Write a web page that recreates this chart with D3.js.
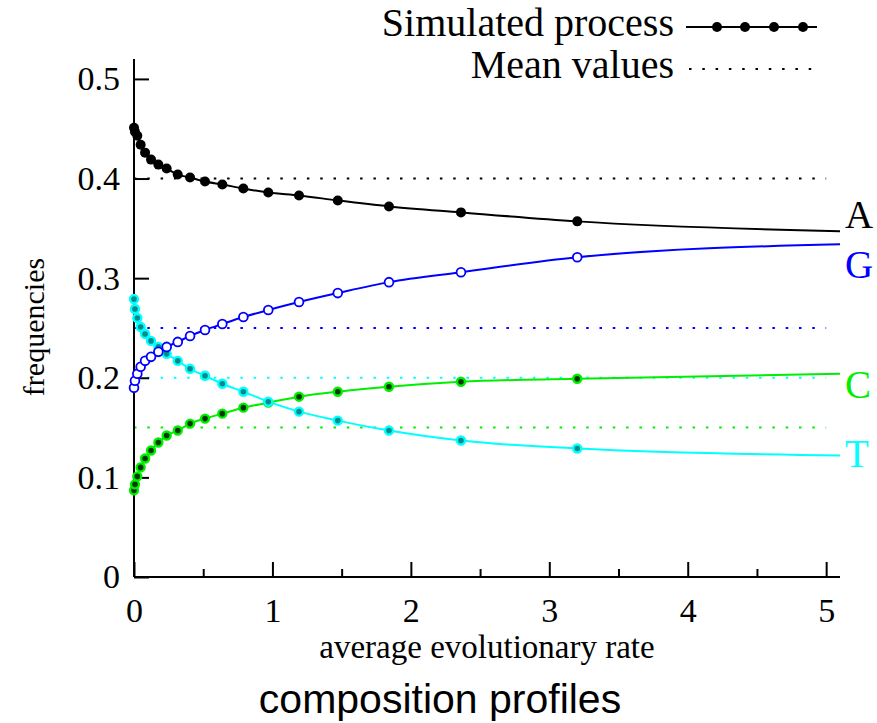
<!DOCTYPE html>
<html>
<head>
<meta charset="utf-8">
<script src="https://cdn.jsdelivr.net/npm/d3@7"></script>
<style>
  body { margin: 0; background: #fff; }
  text { font-family: "Liberation Serif", "Times New Roman", serif; }
  .title { font-family: "Liberation Sans", Arial, sans-serif; }
</style>
</head>
<body>
<div id="viz"></div>
<script>
// rate values where the simulated process was sampled
var rates = [0, 0.007, 0.024, 0.048, 0.08, 0.123, 0.176, 0.236, 0.316, 0.405,
             0.513, 0.638, 0.79, 0.97, 1.192, 1.472, 1.842, 2.362, 3.202];
var freqA = [0.451, 0.447, 0.443, 0.434, 0.426, 0.419, 0.414, 0.410, 0.404, 0.401,
             0.397, 0.394, 0.390, 0.386, 0.383, 0.378, 0.372, 0.366, 0.357];
var freqG = [0.190, 0.197, 0.204, 0.211, 0.217, 0.221, 0.226, 0.231, 0.236, 0.242,
             0.248, 0.254, 0.261, 0.268, 0.276, 0.285, 0.296, 0.306, 0.321];
var freqC = [0.087, 0.093, 0.101, 0.110, 0.119, 0.127, 0.135, 0.142, 0.147, 0.154,
             0.159, 0.164, 0.170, 0.175, 0.181, 0.186, 0.191, 0.196, 0.199];
var freqT = [0.279, 0.269, 0.260, 0.251, 0.244, 0.237, 0.231, 0.224, 0.217, 0.209,
             0.202, 0.194, 0.186, 0.176, 0.166, 0.157, 0.147, 0.137, 0.129];
// where the curves leave the plot on the right
var endRate = 5.1;
var endFreq = { A: 0.347, G: 0.334, C: 0.204, T: 0.122 };
var meanFreq = { A: 0.40, G: 0.25, C: 0.15, T: 0.20 };
var xTicks = [0, 1, 2, 3, 4, 5];
var xMinorTicks = [0.5, 1.5, 2.5, 3.5, 4.5];
var yTicks = [0, 0.1, 0.2, 0.3, 0.4, 0.5];

var width = 877, height = 723;

var svg = d3.select("#viz").append("svg")
  .attr("width", width)
  .attr("height", height);

svg.append("rect").attr("width", width).attr("height", height).attr("fill", "#fff");

var x = d3.scaleLinear().domain([0, 5.1]).range([134, 840]);
var y = d3.scaleLinear().domain([0, 0.52]).range([577, 59]);

var bases = [
  { key: "A", vals: freqA, color: "#000000", fill: "#000000", stroke: "#000000", r: 5, sw: 0 },
  { key: "C", vals: freqC, color: "#00ee00", fill: "#003800", stroke: "#00ee00", r: 4, sw: 2.4 },
  { key: "T", vals: freqT, color: "#00ffff", fill: "#008a8a", stroke: "#00ffff", r: 4, sw: 2.4 },
  { key: "G", vals: freqG, color: "#0000ff", fill: "#ffffff", stroke: "#0000ff", r: 4.4, sw: 1.8 }
];

// mean values (dotted)
bases.forEach(function(b) {
  svg.append("line")
    .attr("x1", x(0)).attr("x2", x(5))
    .attr("y1", y(meanFreq[b.key])).attr("y2", y(meanFreq[b.key]))
    .attr("stroke", b.color)
    .attr("stroke-width", 2)
    .attr("stroke-dasharray", "2.5,10.8");
});

// axes
var xAxis = d3.axisBottom(x).tickValues(xTicks).tickSize(-15).tickFormat(d3.format("d")).tickPadding(14);
var gx = svg.append("g").attr("transform", "translate(0," + y(0) + ")").call(xAxis);
gx.select(".domain").attr("d", "M" + x(0) + ",0H" + x(5.1));
gx.selectAll(".tick text").attr("dy", "0.9em");

svg.append("g").attr("transform", "translate(0," + y(0) + ")")
  .call(d3.axisBottom(x).tickValues(xMinorTicks).tickSize(-8).tickFormat(""))
  .select(".domain").remove();

var yAxis = d3.axisLeft(y).tickValues(yTicks).tickSize(-15).tickPadding(14)
  .tickFormat(function(d) { return d === 0 ? "0" : d3.format(".1f")(d); });
var gy = svg.append("g").attr("transform", "translate(" + x(0) + ",0)").call(yAxis);
gy.select(".domain").attr("d", "M0," + y(0) + "V" + y(0.52));

svg.selectAll(".domain, .tick line").attr("stroke", "#000").attr("stroke-width", 2);
svg.selectAll(".tick text").attr("font-size", 34).attr("fill", "#000")
  .style("font-family", "'Liberation Serif', serif");

// curves and markers
var line = d3.line()
  .x(function(d) { return x(d[0]); })
  .y(function(d) { return y(d[1]); })
  .curve(d3.curveMonotoneX);

bases.forEach(function(b) {
  var pts = rates.map(function(r, i) { return [r, b.vals[i]]; });
  svg.append("path")
    .datum(pts.concat([[endRate, endFreq[b.key]]]))
    .attr("d", line)
    .attr("fill", "none")
    .attr("stroke", b.color)
    .attr("stroke-width", 2);
});

bases.forEach(function(b) {
  var pts = rates.map(function(r, i) { return [r, b.vals[i]]; });
  svg.append("g").selectAll("circle")
    .data(pts)
    .enter().append("circle")
    .attr("cx", function(d) { return x(d[0]); })
    .attr("cy", function(d) { return y(d[1]); })
    .attr("r", b.r)
    .attr("fill", b.fill)
    .attr("stroke", b.sw ? b.stroke : "none")
    .attr("stroke-width", b.sw);
});

// base labels at right edge
var labelY = { A: 228, G: 278, C: 398, T: 467 };
bases.forEach(function(b) {
  svg.append("text")
    .attr("x", 845).attr("y", labelY[b.key])
    .attr("font-size", 39)
    .attr("fill", b.color)
    .text(b.key);
});

// legend
var legend = svg.append("g");
legend.append("text").attr("x", 674).attr("y", 36).attr("text-anchor", "end")
  .attr("font-size", 40).text("Simulated process");
legend.append("line").attr("x1", 686).attr("x2", 817).attr("y1", 27).attr("y2", 27)
  .attr("stroke", "#000").attr("stroke-width", 2);
legend.selectAll("circle").data([717, 745, 774, 803]).enter().append("circle")
  .attr("cx", function(d) { return d; }).attr("cy", 27).attr("r", 5).attr("fill", "#000");
legend.append("text").attr("x", 674).attr("y", 78).attr("text-anchor", "end")
  .attr("font-size", 40).text("Mean values");
legend.append("line").attr("x1", 689).attr("x2", 812).attr("y1", 69).attr("y2", 69)
  .attr("stroke", "#000").attr("stroke-width", 2).attr("stroke-dasharray", "2.5,10.8");

// axis titles
svg.append("text")
  .attr("transform", "translate(44,327) rotate(-90)")
  .attr("text-anchor", "middle")
  .attr("font-size", 30)
  .text("frequencies");

svg.append("text")
  .attr("x", 487).attr("y", 658)
  .attr("text-anchor", "middle")
  .attr("font-size", 33)
  .text("average evolutionary rate");

svg.append("text")
  .attr("class", "title")
  .attr("x", 440).attr("y", 713)
  .attr("text-anchor", "middle")
  .attr("font-size", 41)
  .text("composition profiles");
</script>
</body>
</html>
